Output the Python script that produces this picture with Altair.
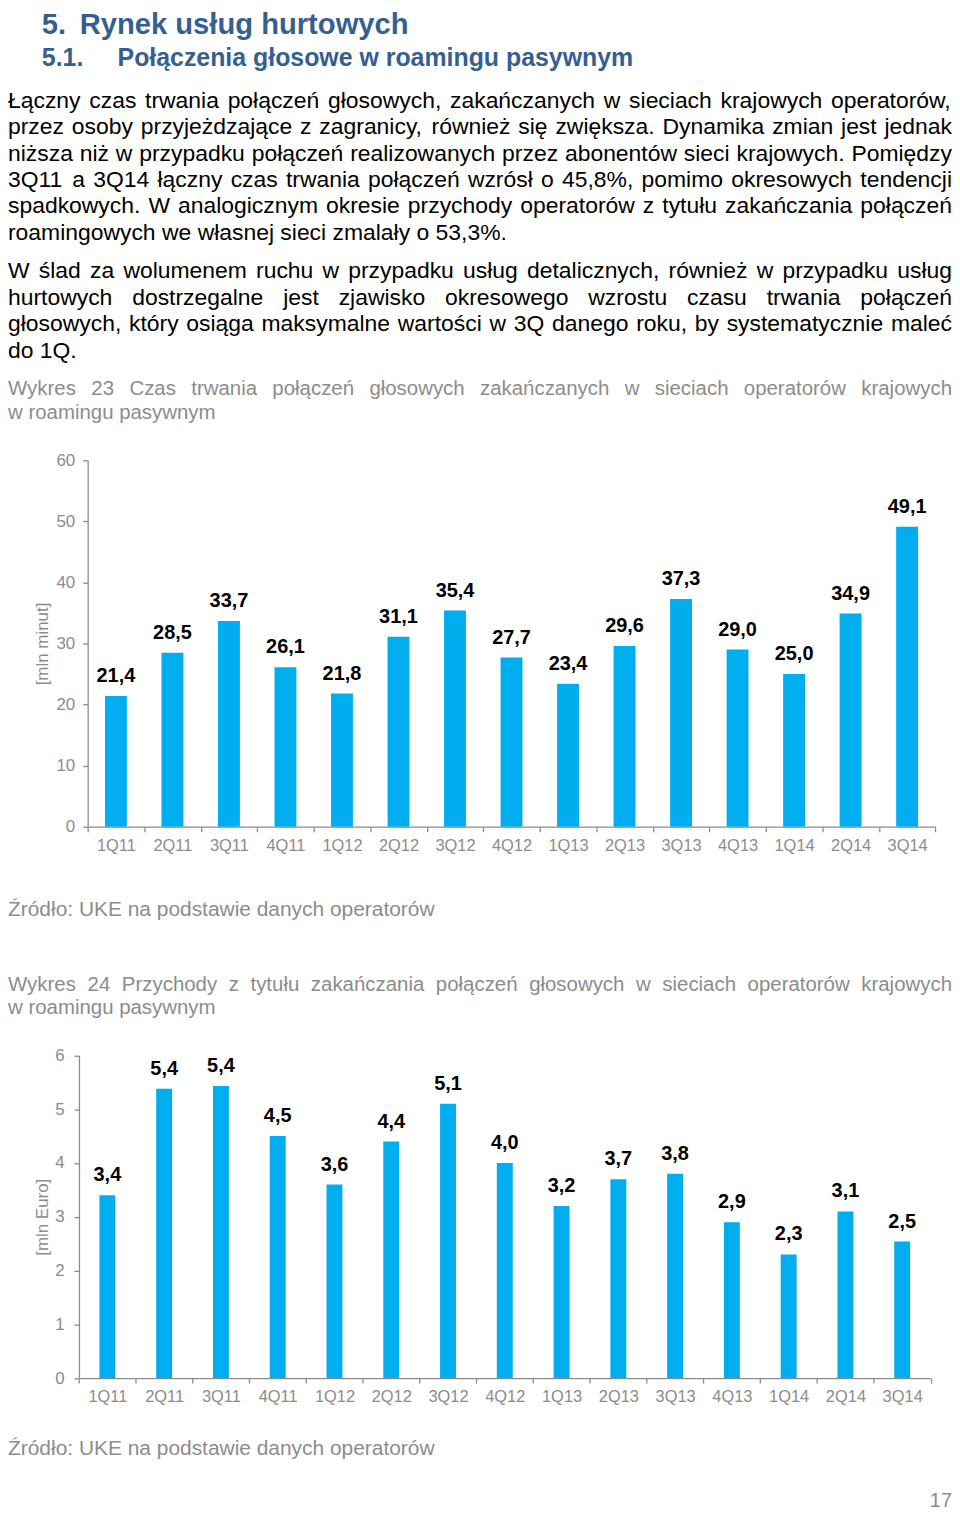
import altair as alt
import pandas as pd

# ---------------- data ----------------
quarters = ["1Q11", "2Q11", "3Q11", "4Q11", "1Q12", "2Q12", "3Q12", "4Q12",
            "1Q13", "2Q13", "3Q13", "4Q13", "1Q14", "2Q14", "3Q14"]
minutes = [21.4, 28.5, 33.7, 26.1, 21.8, 31.1, 35.4, 27.7, 23.4, 29.6, 37.3, 29.0, 25.0, 34.9, 49.1]
minutes_labels = ["21,4", "28,5", "33,7", "26,1", "21,8", "31,1", "35,4", "27,7",
                  "23,4", "29,6", "37,3", "29,0", "25,0", "34,9", "49,1"]
revenue = [3.4, 5.38, 5.43, 4.5, 3.6, 4.4, 5.1, 4.0, 3.2, 3.7, 3.8, 2.9, 2.3, 3.1, 2.54]
revenue_labels = ["3,4", "5,4", "5,4", "4,5", "3,6", "4,4", "5,1", "4,0",
                  "3,2", "3,7", "3,8", "2,9", "2,3", "3,1", "2,5"]
minutes_ticks = [0, 10, 20, 30, 40, 50, 60]
revenue_ticks = [0, 1, 2, 3, 4, 5, 6]

heading1 = ["5.", "Rynek usług hurtowych"]
heading2 = ["5.1.", "Połączenia głosowe w roamingu pasywnym"]
paragraph1 = [
    "Łączny czas trwania połączeń głosowych, zakańczanych w sieciach krajowych operatorów,",
    "przez osoby przyjeżdzające z zagranicy, również się zwiększa. Dynamika zmian jest jednak",
    "niższa niż w przypadku połączeń realizowanych przez abonentów sieci krajowych. Pomiędzy",
    "3Q11 a 3Q14 łączny czas trwania połączeń wzrósł o 45,8%, pomimo okresowych tendencji",
    "spadkowych. W analogicznym okresie przychody operatorów z tytułu zakańczania połączeń",
    "roamingowych we własnej sieci zmalały o 53,3%.",
]
paragraph2 = [
    "W ślad za wolumenem ruchu w przypadku usług detalicznych, również w przypadku usług",
    "hurtowych dostrzegalne jest zjawisko okresowego wzrostu czasu trwania połączeń",
    "głosowych, który osiąga maksymalne wartości w 3Q danego roku, by systematycznie maleć",
    "do 1Q.",
]
caption23 = [
    "Wykres 23 Czas trwania połączeń głosowych zakańczanych w sieciach operatorów krajowych",
    "w roamingu pasywnym",
]
caption24 = [
    "Wykres 24 Przychody z tytułu zakańczania połączeń głosowych w sieciach operatorów krajowych",
    "w roamingu pasywnym",
]
source_text = "Źródło: UKE na podstawie danych operatorów"
page_number = "17"

# ---------------- style / layout ----------------
W, H = 948, 1505
FONT = "Liberation Sans"
BLUE = "#00AEEF"
HEAD = "#365F91"
GRAY = "#8c8c8c"
TEXT_RIGHT = 948

# Arial / Liberation Sans advance widths (1/1000 em), used to justify lines
ADV = {" ": 278, ",": 278, ".": 278, ":": 278, "%": 889, "-": 333, "(": 333, ")": 333,
       "a": 556, "b": 556, "c": 500, "d": 556, "e": 556, "f": 278, "g": 556, "h": 556,
       "i": 222, "j": 222, "k": 500, "l": 222, "m": 833, "n": 556, "o": 556, "p": 556,
       "q": 556, "r": 333, "s": 500, "t": 278, "u": 556, "v": 500, "w": 722, "x": 500,
       "y": 500, "z": 500, "ą": 556, "ć": 500, "ę": 556, "ł": 222, "ń": 556, "ó": 556,
       "ś": 500, "ź": 500, "ż": 500, "A": 667, "B": 667, "C": 722, "D": 722, "E": 667,
       "F": 611, "G": 778, "H": 722, "I": 278, "J": 500, "K": 667, "L": 556, "M": 833,
       "N": 722, "O": 778, "P": 667, "Q": 778, "R": 722, "S": 667, "T": 611, "U": 722,
       "V": 667, "W": 944, "X": 667, "Y": 667, "Z": 611, "Ł": 556, "Ś": 667, "Ź": 611,
       "Ż": 611}


def word_width(s, fs):
    return sum(ADV.get(ch, 556) for ch in s) * fs / 1000.0


def place_lines(lines, y0, lead, fs, color, justify_last=False):
    rows = []
    for i, line in enumerate(lines):
        y = y0 + i * lead
        words = line.split(" ")
        widths = [word_width(w, fs) for w in words]
        last = (i == len(lines) - 1) and not justify_last
        if len(words) > 1 and not last:
            gap = (TEXT_RIGHT - sum(widths)) / (len(words) - 1)
        else:
            gap = ADV[" "] * fs / 1000.0
        x = 0.0
        for w, wd in zip(words, widths):
            rows.append({"t": w, "x": x, "y": y, "fs": fs, "col": color})
            x += wd + gap
    return rows


rows = []
rows += place_lines(paragraph1, 97, 26.5, 23, "#000000")
rows += place_lines(paragraph2, 268, 26.6, 23, "#000000")
rows += place_lines(caption23, 385.5, 24, 20.5, GRAY)
rows += place_lines([source_text], 908.5, 0, 21, GRAY)
rows += place_lines(caption24, 983.5, 24, 20.5, GRAY)
rows += place_lines([source_text], 1449.5, 0, 21, GRAY)
text_df = pd.DataFrame(rows)

head_df = pd.DataFrame([
    {"t": heading1[0], "x": 34, "y": 22.5, "fs": 29.3},
    {"t": heading1[1], "x": 72, "y": 22.5, "fs": 29.3},
    {"t": heading2[0], "x": 34, "y": 55.5, "fs": 25},
    {"t": heading2[1], "x": 110, "y": 55.5, "fs": 25},
])
pn_df = pd.DataFrame([{"t": page_number, "x": TEXT_RIGHT, "y": 1502}])

px = lambda f: alt.X(f, type="quantitative", scale=None, axis=None)
py = lambda f: alt.Y(f, type="quantitative", scale=None, axis=None)

body = alt.Chart(text_df).mark_text(align="left", baseline="alphabetic", font=FONT).encode(
    x=px("x"), y=py("y"), text="t:N",
    size=alt.Size("fs:Q", scale=None, legend=None),
    color=alt.Color("col:N", scale=None, legend=None),
)
heads = alt.Chart(head_df).mark_text(align="left", baseline="alphabetic", font=FONT,
                                     fontWeight="bold", color=HEAD).encode(
    x=px("x"), y=py("y"), text="t:N",
    size=alt.Size("fs:Q", scale=None, legend=None),
)
pnum = alt.Chart(pn_df).mark_text(align="right", baseline="alphabetic", font=FONT,
                                  fontSize=20, color=GRAY).encode(
    x=px("x"), y=py("y"), text="t:N")


def bar_chart(values, labels, ticks, ymax, xr, yr, bar_w, title, label_pad_y):
    df = pd.DataFrame({"q": quarters, "v": values, "lab": labels})
    x_enc = alt.X("q:N", sort=quarters,
                  scale=alt.Scale(range=xr, paddingInner=0, paddingOuter=0),
                  axis=alt.Axis(orient="bottom", offset=yr[0] - H, title=None, labelAngle=0,
                                tickBand="extent", tickSize=5, labelPadding=6,
                                labelOverlap=False, labelFontSize=16.5, labelFont=FONT,
                                labelColor=GRAY, domainColor=GRAY, tickColor=GRAY,
                                domainWidth=1.3, tickWidth=1.3, grid=False))
    y_enc = alt.Y("v:Q",
                  scale=alt.Scale(domain=[0, ymax], range=yr, nice=False, zero=True),
                  axis=alt.Axis(orient="left", offset=-xr[0], values=ticks, format="d",
                                title=title, titleX=34.5 - xr[0], titleY=(yr[0] + yr[1]) / 2,
                                titleAngle=270, titleAlign="center", titleBaseline="middle",
                                titleFontSize=17, titleFontWeight="normal", titleFont=FONT,
                                titleColor=GRAY, tickSize=5, labelPadding=label_pad_y,
                                labelFontSize=17, labelFont=FONT, labelColor=GRAY,
                                domainColor=GRAY, tickColor=GRAY, domainWidth=1.3,
                                tickWidth=1.3, grid=False))
    bars = alt.Chart(df).mark_bar(size=bar_w, color=BLUE).encode(x=x_enc, y=y_enc)
    labs = alt.Chart(df).mark_text(dy=-14, baseline="alphabetic", fontWeight="bold",
                                   fontSize=20, font=FONT, color="#000000").encode(
        x=x_enc, y=y_enc, text="lab:N")
    return alt.layer(bars, labs)


chart1 = bar_chart(minutes, minutes_labels, minutes_ticks, 60, [80, 931.3], [819, 451],
                   22, "[mln minut]", 8)
chart2 = bar_chart(revenue, revenue_labels, revenue_ticks, 6, [71.3, 926.5], [1372.7, 1048.7],
                   16, "[mln Euro]", 10)

chart = alt.layer(body, heads, pnum, chart1, chart2).resolve_scale(
    x="independent", y="independent"
).resolve_axis(x="independent", y="independent").properties(
    width=W, height=H, padding=0, autosize=alt.AutoSizeParams(type="none")
).configure_view(strokeWidth=0)

chart.save("out.html", embed_options={"renderer": "svg", "actions": False})
